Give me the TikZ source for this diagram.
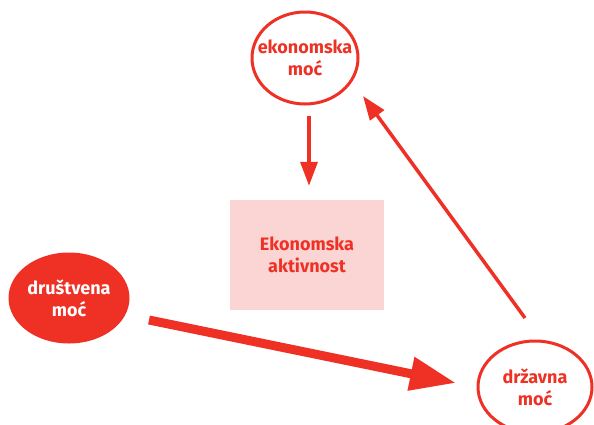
\documentclass[tikz,border=0pt]{standalone}
\usepackage{fontspec}
\setmainfont{Fira Sans}
\usetikzlibrary{shapes.geometric,arrows.meta}
\definecolor{crvena}{RGB}{238,49,36}
\definecolor{roza}{RGB}{251,213,211}

\begin{document}
\begin{tikzpicture}[x=1pt, y=-1pt,
        natpis/.style = {align = center, font = \bfseries\fontsize{18}{22}\selectfont},
        elipsa/.style = {ellipse, draw = crvena, line width = 3pt, inner sep = 0pt},
        tanka/.style = {draw = crvena, line width = 3.5pt, -{Triangle[length = 24pt, width = 17pt]}},
        debela/.style = {draw = crvena, line width = 9pt, -{Triangle[length = 46pt, width = 32pt]}}]
    \useasboundingbox (0,0) rectangle (594,424);

    \node (eko_moc)[elipsa, minimum width = 106pt, minimum height = 92pt,
        label = {[natpis, text = crvena]center:ekonomska\\mo\'c}] at (305,58) {};
    \node (aktivnost)[natpis, fill = roza, text = crvena, minimum width = 154pt, minimum height = 110pt]
        at (307,255) {Ekonomska\\aktivnost};
    \node (drus_moc)[elipsa, fill = crvena, minimum width = 118pt, minimum height = 88pt,
        label = {[natpis, text = white]center:dru\v{s}tvena\\mo\'c}] at (69,298) {};
    \node (drz_moc)[elipsa, minimum width = 114pt, minimum height = 92pt,
        label = {[natpis, text = crvena]center:dr\v{z}avna\\mo\'c}] at (535,387) {};

    % krajevi strelica
    \coordinate (drz_izlaz) at (525,318);
    \coordinate (eko_ulaz) at (363,96);
    \coordinate (drus_izlaz) at (149,320);
    \coordinate (drz_ulaz) at (456,383);

    \path ([xshift = 4pt]eko_moc.south) edge[tanka, shorten < = 10pt, shorten > = 14pt] ([xshift = 2pt]aktivnost.north);
    \path (drz_izlaz) edge[tanka] (eko_ulaz);
    \path (drus_izlaz) edge[debela] (drz_ulaz);
\end{tikzpicture}
\end{document}
